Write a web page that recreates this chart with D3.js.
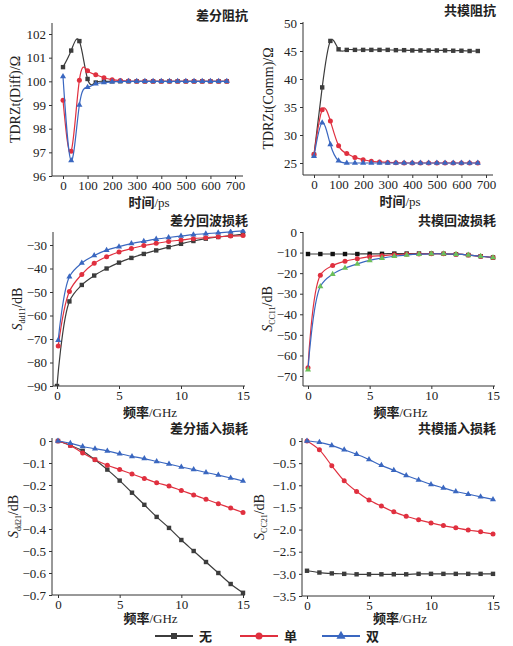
<!DOCTYPE html><html><head><meta charset="utf-8"><script src="https://cdn.jsdelivr.net/npm/d3@7"></script>
<style>body{margin:0;background:#fff}text{font-family:"Liberation Serif","Noto Sans CJK SC",serif;fill:#222}</style></head><body><svg id="c" width="513" height="646"></svg><script>
const seriesNames=["无","单","双"];
const colors=["#3c3c3c","#e0303f","#3a67c0"];
const tImp=d3.range(0,21).map(i=>i*100/3);
const f16=d3.range(0,16);
const fRL=[0.1].concat(d3.range(1,16));
const dImpBlack=[100.6,101.3,101.7,100.1,99.95,100,100,100,100,100,100,100,100,100,100,100,100,100,100,100,100];
const dImpRed=[99.2,97.05,100.05,100.45,100.28,100.15,100.07,100.03,100.01,100,100,100,100,100,100,100,100,100,100,100,100];
const dImpBlue=[100.2,96.65,99.0,99.75,99.9,99.95,99.98,100,100,100,100,100,100,100,100,100,100,100,100,100,100];
const cImpBlack=[26.5,38.5,46.8,45.3,45.2,45.2,45.2,45.2,45.2,45.2,45.15,45.15,45.1,45.1,45.1,45.1,45.1,45.05,45.05,45.0,45.0];
const cImpRed=[26.5,34.5,32.5,28.1,26.7,26.0,25.6,25.3,25.2,25.1,25.05,25.0,25,25,25,25,25,25,25,25,25];
const cImpBlue=[26.2,32.2,28.3,25.4,25.0,25,25,25,25,25,25,25,25,25,25,25,25,25,25,25,25];
const dRLBlack=[-90,-54,-47,-43,-40,-37.5,-35.5,-33.8,-32.3,-30.9,-29.5,-28.3,-27.3,-26.6,-26,-25.5];
const dRLRed=[-73,-49.8,-42.5,-37.8,-35,-33,-31.5,-30.2,-29.3,-28.5,-27.9,-27.3,-26.9,-26.5,-26.2,-26];
const dRLBlue=[-70.5,-43.5,-37.7,-34.5,-32.2,-30.7,-29.4,-28.4,-27.5,-26.8,-26.2,-25.6,-25.2,-24.8,-24.4,-24.0];
const cRLBlack=[-10.7,-10.7,-10.7,-10.7,-10.7,-10.6,-10.6,-10.5,-10.5,-10.5,-10.5,-10.6,-10.8,-11.2,-11.8,-12.4];
const cRLRed=[-66,-21,-16.3,-14.2,-13,-12,-11.5,-11,-10.8,-10.7,-10.6,-10.6,-10.8,-11.2,-11.8,-12.4];
const cRLBlue=[-67,-26.5,-20.5,-17.5,-15.5,-13.8,-12.7,-11.8,-11.2,-10.8,-10.6,-10.6,-10.8,-11.2,-11.8,-12.4];
const dILBlack=[0,-0.02,-0.045,-0.085,-0.13,-0.18,-0.235,-0.29,-0.345,-0.395,-0.45,-0.5,-0.55,-0.6,-0.65,-0.69];
const dILRed=[0,-0.02,-0.055,-0.085,-0.11,-0.13,-0.15,-0.17,-0.19,-0.205,-0.225,-0.245,-0.265,-0.285,-0.305,-0.325];
const dILBlue=[0,-0.01,-0.025,-0.035,-0.045,-0.058,-0.07,-0.08,-0.093,-0.105,-0.118,-0.13,-0.143,-0.155,-0.168,-0.182];
const cILBlack=[-2.93,-2.97,-2.99,-3.0,-3.01,-3.01,-3.01,-3.01,-3.01,-3.0,-3.0,-3.0,-3.0,-3.0,-3.0,-3.0];
const cILRed=[0,-0.2,-0.56,-0.9,-1.14,-1.33,-1.47,-1.6,-1.7,-1.78,-1.85,-1.91,-1.96,-2.01,-2.05,-2.1];
const cILBlue=[0,-0.03,-0.1,-0.2,-0.3,-0.42,-0.55,-0.66,-0.78,-0.88,-0.98,-1.06,-1.14,-1.2,-1.26,-1.32];

const svg=d3.select("#c");
let clipId=0;
function panel(o){
  const g=svg.append("g");
  const x=d3.scaleLinear().domain(o.xd).range(o.xr);
  const y=d3.scaleLinear().domain(o.yd).range(o.yr);
  const id="cl"+(clipId++);
  g.append("clipPath").attr("id",id).append("rect").attr("x",o.ax).attr("y",o.ytop-3).attr("width",o.xend-o.ax+6).attr("height",o.xb-o.ytop+3);
  const fmt=o.yf||(d=>String(d).replace("-","−"));
  const ya=g.append("g").attr("transform",`translate(${o.ax},0)`).call(d3.axisLeft(y).tickValues(o.yt).tickSize(3).tickFormat(fmt));
  const xa=g.append("g").attr("transform",`translate(0,${o.xb})`).call(d3.axisBottom(x).tickValues(o.xt).tickSize(3).tickPadding(2).tickFormat(d=>d));
  [ya,xa].forEach(a=>{a.selectAll("text").attr("font-size",13).style("font-family","Liberation Serif");a.selectAll("line").attr("stroke","#333");a.select(".domain").attr("stroke","#333");});
  xa.select(".domain").attr("d",`M${o.ax},0H${o.xend}`);
  ya.select(".domain").attr("d",`M0,${o.xb}V${o.ytop}`);
  const pg=g.append("g").attr("clip-path",`url(#${id})`);
  const curve=o.curve||d3.curveCatmullRom.alpha(0.5);
  o.series.forEach((s,i)=>{
    const pts=s.y.map((v,k)=>[x(s.x[k]),y(v)]);
    pg.append("path").attr("d",d3.line().curve(curve)(pts)).attr("fill","none").attr("stroke",s.lc||colors[i]).attr("stroke-width",1.2);
    const mc=s.mc||colors[i];
    pts.forEach(p=>{
      if(i==0) pg.append("rect").attr("x",p[0]-2.2).attr("y",p[1]-2.2).attr("width",4.4).attr("height",4.4).attr("fill",mc);
      else if(i==1) pg.append("circle").attr("cx",p[0]).attr("cy",p[1]).attr("r",2.5).attr("fill",mc);
      else pg.append("path").attr("d",d3.symbol(d3.symbolTriangle,16)()).attr("transform",`translate(${p[0]},${p[1]})`).attr("fill",mc);
    });
  });
  g.append("text").attr("x",o.tx).attr("y",o.ty).attr("text-anchor","end").attr("font-size",13).attr("font-weight","bold").style("font-family","Noto Sans CJK SC").text(o.title);
  const xl=g.append("text").attr("x",(o.xr[0]+o.xr[1])/2).attr("y",o.xb+(o.xlo||31)).attr("text-anchor","middle").attr("font-size",13);
  xl.append("tspan").style("font-family","Noto Sans CJK SC").attr("font-weight","bold").text(o.xl[0]);
  xl.append("tspan").text(o.xl[1]);
  const yl=g.append("text").attr("transform",`translate(${o.ylx},${(o.xb+o.ytop)/2}) rotate(-90)`).attr("text-anchor","middle").attr("font-size",14);
  if(o.sub){yl.append("tspan").attr("font-style","italic").text("S");yl.append("tspan").attr("font-size",8).attr("dy",3).text(o.sub);yl.append("tspan").attr("dy",-3).text("/dB");}
  else yl.text(o.yl);
}
panel({title:"差分阻抗",tx:248,ty:20,ax:52,ytop:23,xb:176,xr:[63,235],xend:243,xd:[0,700],yd:[96,102],yr:[176,34],xt:d3.range(0,701,100),yt:d3.range(96,103),xl:["时间","/ps"],ylx:20,yl:"TDRZt(Diff)/Ω",curve:d3.curveNatural,
 series:[{x:tImp,y:dImpBlack},{x:tImp,y:dImpRed},{x:tImp,y:dImpBlue}]});
panel({title:"共模阻抗",tx:496,ty:15,ax:303,ytop:22,xb:175,xr:[314,486],xend:493,xd:[0,700],yd:[25,50],yr:[163,23],xt:d3.range(0,701,100),yt:d3.range(25,51,5),xl:["时间","/ps"],ylx:273,yl:"TDRZt(Comm)/Ω",curve:d3.curveNatural,
 series:[{x:tImp,y:cImpBlack},{x:tImp,y:cImpRed},{x:tImp,y:cImpBlue}]});
panel({title:"差分回波损耗",tx:248,ty:225,ax:53,ytop:232,xb:386,xr:[57,243],xend:245,xd:[0,15],yd:[-90,-30],yr:[386,245],xt:[0,5,10,15],yt:d3.range(-90,-29,10),xl:["频率","/GHz"],ylx:22,sub:"dd11",
 series:[{x:[0].concat(d3.range(1,16)),y:dRLBlack},{x:fRL,y:dRLRed},{x:fRL,y:dRLBlue}]});
panel({title:"共模回波损耗",tx:496,ty:225,ax:303,ytop:232,xb:386,xr:[308,493],xend:495,xd:[0,15],yd:[-70,0],yr:[376,232],xt:[0,5,10,15],yt:d3.range(-70,1,10),xl:["频率","/GHz"],ylx:272,sub:"CC11",
 series:[{x:f16,y:cRLBlack,mc:"#111"},{x:f16,y:cRLRed},{x:f16,y:cRLBlue,mc:"#6cbf5a"}]});
panel({title:"差分插入损耗",tx:248,ty:433,ax:52,ytop:438,xb:595,xlo:28,xr:[58,243],xend:245,xd:[0,15],yd:[-0.7,0],yr:[595,441],xt:[0,5,10,15],yt:d3.range(0,8).map(i=>-i/10),yf:d=>d==0?"0":d3.format(".1f")(d).replace("-","−"),xl:["频率","/GHz"],ylx:18,sub:"dd21",
 series:[{x:f16,y:dILBlack},{x:f16,y:dILRed},{x:f16,y:dILBlue}]});
panel({title:"共模插入损耗",tx:496,ty:433,ax:302,ytop:438,xb:596,xlo:27,xr:[307,493],xend:495,xd:[0,15],yd:[-3.5,0],yr:[596,441],xt:[0,5,10,15],yt:d3.range(0,8).map(i=>-i/2),yf:d=>d==0?"0":d3.format(".1f")(d).replace("-","−"),xl:["频率","/GHz"],ylx:264,sub:"CC21",
 series:[{x:f16,y:cILBlack},{x:f16,y:cILRed},{x:f16,y:cILBlue}]});
const lg=svg.append("g");
[155,240,322].forEach((lx,i)=>{
  lg.append("line").attr("x1",lx).attr("x2",lx+38).attr("y1",636).attr("y2",636).attr("stroke",colors[i]).attr("stroke-width",2);
  const cx=lx+19;
  if(i==0) lg.append("rect").attr("x",cx-3).attr("y",633).attr("width",6).attr("height",6).attr("fill",colors[i]);
  else if(i==1) lg.append("circle").attr("cx",cx).attr("cy",636).attr("r",3.5).attr("fill",colors[i]);
  else lg.append("path").attr("d",d3.symbol(d3.symbolTriangle,36)()).attr("transform",`translate(${cx},636)`).attr("fill",colors[i]);
  lg.append("text").attr("x",lx+44).attr("y",641).attr("font-size",13).style("font-family","Noto Sans CJK SC").attr("font-weight","bold").text(seriesNames[i]);
});
</script></body></html>
